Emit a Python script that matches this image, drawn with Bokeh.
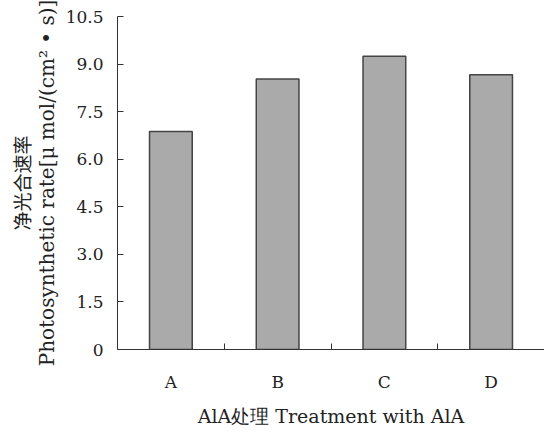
from bokeh.plotting import figure
from bokeh.models import FixedTicker, ColumnDataSource, Range1d, LinearAxis
from bokeh.embed import file_html
from bokeh.resources import INLINE

categories = ["A", "B", "C", "D"]
rates = [6.87, 8.53, 9.25, 8.66]
y_ticks = [0, 1.5, 3.0, 4.5, 6.0, 7.5, 9.0, 10.5]
y_tick_labels = ["0", "1.5", "3.0", "4.5", "6.0", "7.5", "9.0", "10.5"]
x_title = "AlA处理 Treatment with AlA"
y_title_cn = "净光合速率"
y_title_en = "Photosynthetic rate[μ mol/(cm² • s)]"

xpos = [i + 0.5 for i in range(len(categories))]
src = ColumnDataSource(dict(x=xpos, top=rates))

FONT = "DejaVu Serif"
TXT = "#222222"

p = figure(width=544, height=429, output_backend="svg", toolbar_location=None,
           x_range=Range1d(0, len(categories)), y_range=Range1d(0, 10.5),
           min_border_left=117, min_border_right=0, min_border_top=16, min_border_bottom=77)
p.outline_line_color = None
p.grid.visible = False
p.background_fill_color = "white"

p.vbar(x="x", top="top", width=0.4, bottom=0, source=src,
       fill_color="#aaaaaa", line_color="#444444", line_width=1.5)

xa = p.xaxis[0]
xa.ticker = FixedTicker(ticks=xpos, minor_ticks=[1, 2, 3, 4])
xa.major_label_overrides = {x: c for x, c in zip(xpos, categories)}
xa.major_tick_line_color = None
xa.minor_tick_in = 6
xa.minor_tick_out = 0
xa.minor_tick_line_color = "#333333"
xa.axis_line_color = "#333333"
xa.major_label_standoff = 16
xa.major_label_text_font = FONT
xa.major_label_text_font_size = "17px"
xa.major_label_text_color = TXT
xa.axis_label = x_title
xa.axis_label_text_font = FONT
xa.axis_label_text_font_size = "19px"
xa.axis_label_text_font_style = "normal"
xa.axis_label_text_color = TXT
xa.axis_label_text_line_height = 1.0
xa.axis_label_standoff = 10

ya = p.yaxis[0]
ya.ticker = FixedTicker(ticks=y_ticks, minor_ticks=[])
ya.major_label_overrides = {t: l for t, l in zip(y_ticks, y_tick_labels)}
ya.major_tick_in = 6
ya.major_tick_out = 0
ya.major_tick_line_color = "#333333"
ya.axis_line_color = "#333333"
ya.major_label_standoff = 14
ya.major_label_text_font = FONT
ya.major_label_text_font_size = "17px"
ya.major_label_text_color = TXT
ya.axis_label = y_title_en
ya.axis_label_text_font = FONT
ya.axis_label_text_font_size = "20px"
ya.axis_label_text_font_style = "normal"
ya.axis_label_text_color = TXT
ya.axis_label_text_line_height = 1.0
ya.axis_label_standoff = 4

cn_axis = LinearAxis(ticker=FixedTicker(ticks=[]), axis_line_color=None,
                     major_tick_line_color=None, minor_tick_line_color=None,
                     axis_label=y_title_cn, axis_label_text_font="Noto Sans CJK SC",
                     axis_label_text_font_size="19px", axis_label_text_font_style="normal",
                     axis_label_text_color=TXT, axis_label_text_line_height=1.0,
                     axis_label_standoff=-3)
p.add_layout(cn_axis, "left")

open("out.html", "w").write(file_html(p, INLINE))
